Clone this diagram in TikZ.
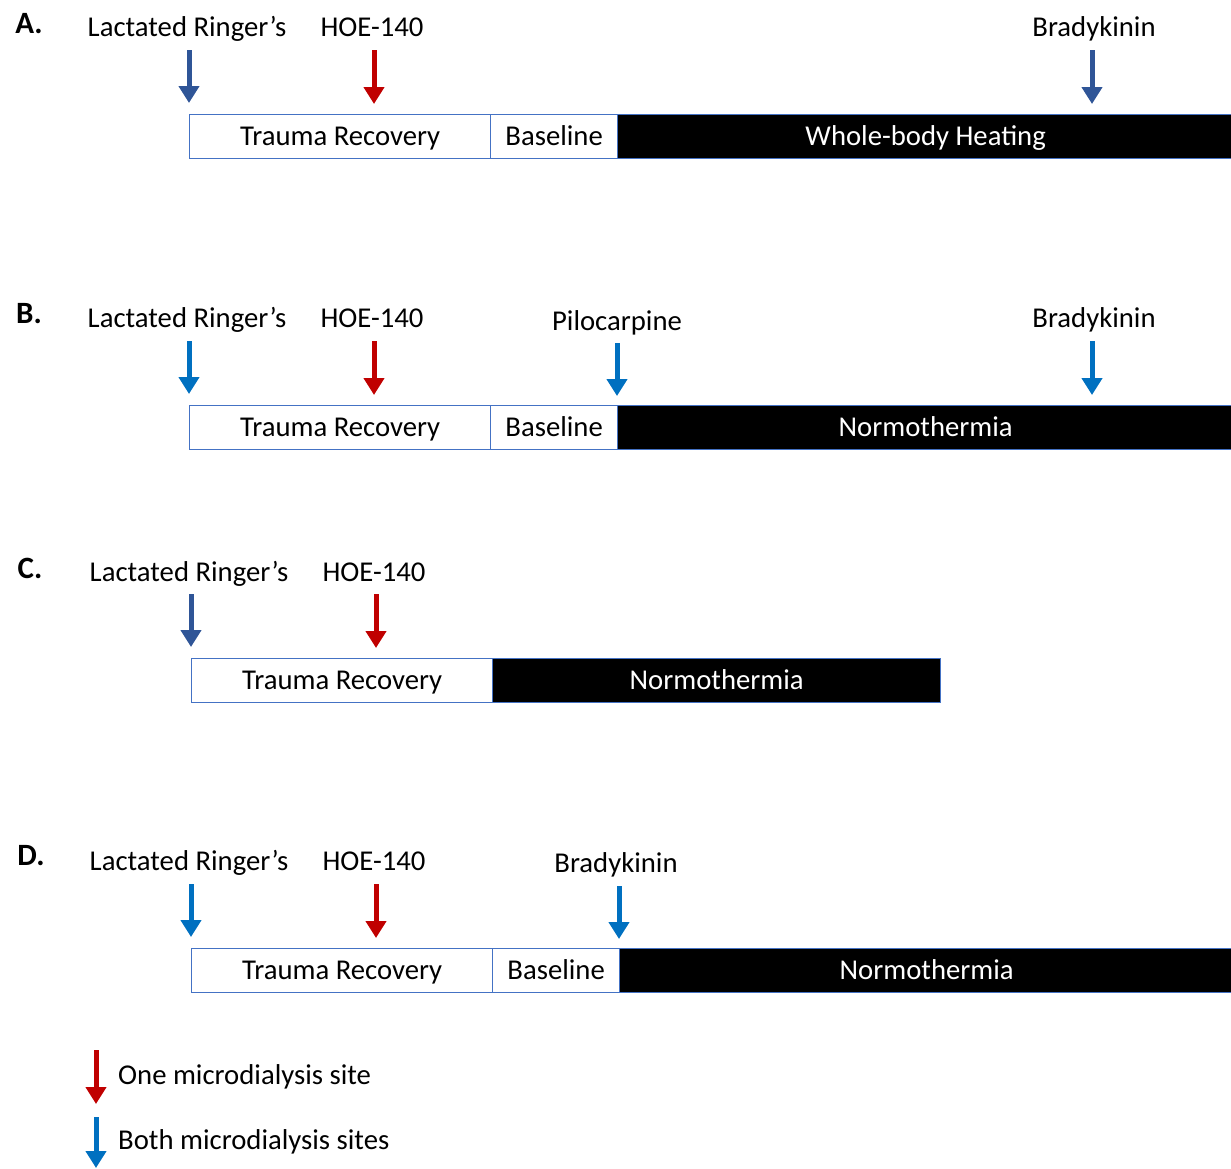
\documentclass[tikz,border=0pt]{standalone}
\usepackage{fontspec}
\setmainfont{Carlito}
\usetikzlibrary{arrows.meta}
\definecolor{dkblue}{HTML}{2F5597}
\definecolor{ltblue}{HTML}{0070C0}
\definecolor{dred}{HTML}{C00000}
\definecolor{edge}{HTML}{4472C4}
\tikzset{
  lbl/.style={inner sep=0pt, text height=19pt, text depth=0pt, font=\fontsize{28.7}{31}\selectfont},
  plabel/.style={inner sep=0pt, font=\fontsize{31}{33}\selectfont\bfseries},
  darr/.style={line width=5pt, -{Triangle[width=20pt,length=17pt]}},
  wbox/.style={draw=edge, line width=1.3pt, fill=white, inner sep=0pt, minimum height=44pt, text height=19pt, text depth=2pt, font=\fontsize{28.7}{31}\selectfont},
  bbox/.style={wbox, fill=black, text=white},
}
\begin{document}
\begin{tikzpicture}[x=1pt,y=-1pt]
\useasboundingbox (0,0) rectangle (1231,1168);
% ---------- Panel A
\node[plabel] (pA) at (29,24) {A.};
\node[lbl] (a1) at (187,27) {Lactated Ringer’s};
\node[lbl] (a2) at (372,27) {HOE-140};
\node[lbl] (a3) at (1094,27) {Bradykinin};
\node[wbox, minimum width=301pt, anchor=north west] (aT) at (189,114) {Trauma Recovery};
\node[wbox, minimum width=127pt, anchor=north west] (aB) at (490,114) {Baseline};
\node[bbox, minimum width=616pt, anchor=north west] (aW) at (617,114) {Whole-body Heating};
\coordinate (a1s) at (189,50); \coordinate (a1e) at (189,103);
\coordinate (a2s) at (374,50); \coordinate (a2e) at (374,104);
\coordinate (a3s) at (1092,50); \coordinate (a3e) at (1092,104);
\draw[darr, dkblue] (a1s) -- (a1e);
\draw[darr, dred] (a2s) -- (a2e);
\draw[darr, dkblue] (a3s) -- (a3e);
% ---------- Panel B
\node[plabel] (pB) at (29,314) {B.};
\node[lbl] (b1) at (187,318) {Lactated Ringer’s};
\node[lbl] (b2) at (372,318) {HOE-140};
\node[lbl] (b3) at (617,321) {Pilocarpine};
\node[lbl] (b4) at (1094,318) {Bradykinin};
\node[wbox, minimum width=301pt, anchor=north west] (bT) at (189,405) {Trauma Recovery};
\node[wbox, minimum width=127pt, anchor=north west] (bB) at (490,405) {Baseline};
\node[bbox, minimum width=616pt, anchor=north west] (bN) at (617,405) {Normothermia};
\coordinate (b1s) at (189,341); \coordinate (b1e) at (189,394);
\coordinate (b2s) at (374,341); \coordinate (b2e) at (374,395);
\coordinate (b3s) at (617,343); \coordinate (b3e) at (617,396);
\coordinate (b4s) at (1092,341); \coordinate (b4e) at (1092,395);
\draw[darr, ltblue] (b1s) -- (b1e);
\draw[darr, dred] (b2s) -- (b2e);
\draw[darr, ltblue] (b3s) -- (b3e);
\draw[darr, ltblue] (b4s) -- (b4e);
% ---------- Panel C
\node[plabel] (pC) at (30,568) {C.};
\node[lbl] (c1) at (189,572) {Lactated Ringer’s};
\node[lbl] (c2) at (374,572) {HOE-140};
\node[wbox, minimum width=301pt, anchor=north west] (cT) at (191,658) {Trauma Recovery};
\node[bbox, minimum width=448pt, anchor=north west] (cN) at (492,658) {Normothermia};
\coordinate (c1s) at (191,594); \coordinate (c1e) at (191,647);
\coordinate (c2s) at (376,594); \coordinate (c2e) at (376,648);
\draw[darr, dkblue] (c1s) -- (c1e);
\draw[darr, dred] (c2s) -- (c2e);
% ---------- Panel D
\node[plabel] (pD) at (31,856) {D.};
\node[lbl] (d1) at (189,861) {Lactated Ringer’s};
\node[lbl] (d2) at (374,861) {HOE-140};
\node[lbl] (d3) at (616,863) {Bradykinin};
\node[wbox, minimum width=301pt, anchor=north west] (dT) at (191,948) {Trauma Recovery};
\node[wbox, minimum width=127pt, anchor=north west] (dB) at (492,948) {Baseline};
\node[bbox, minimum width=614pt, anchor=north west] (dN) at (619,948) {Normothermia};
\coordinate (d1s) at (191,884); \coordinate (d1e) at (191,937);
\coordinate (d2s) at (376,884); \coordinate (d2e) at (376,938);
\coordinate (d3s) at (619,886); \coordinate (d3e) at (619,939);
\draw[darr, ltblue] (d1s) -- (d1e);
\draw[darr, dred] (d2s) -- (d2e);
\draw[darr, ltblue] (d3s) -- (d3e);
% ---------- Legend
\coordinate (l1s) at (96,1050); \coordinate (l1e) at (96,1104);
\coordinate (l2s) at (96,1117); \coordinate (l2e) at (96,1168);
\draw[darr, dred] (l1s) -- (l1e);
\draw[darr, ltblue] (l2s) -- (l2e);
\node[lbl, anchor=west] (l1) at (118,1075) {One microdialysis site};
\node[lbl, anchor=west] (l2) at (118,1140) {Both microdialysis sites};
\end{tikzpicture}
\end{document}
